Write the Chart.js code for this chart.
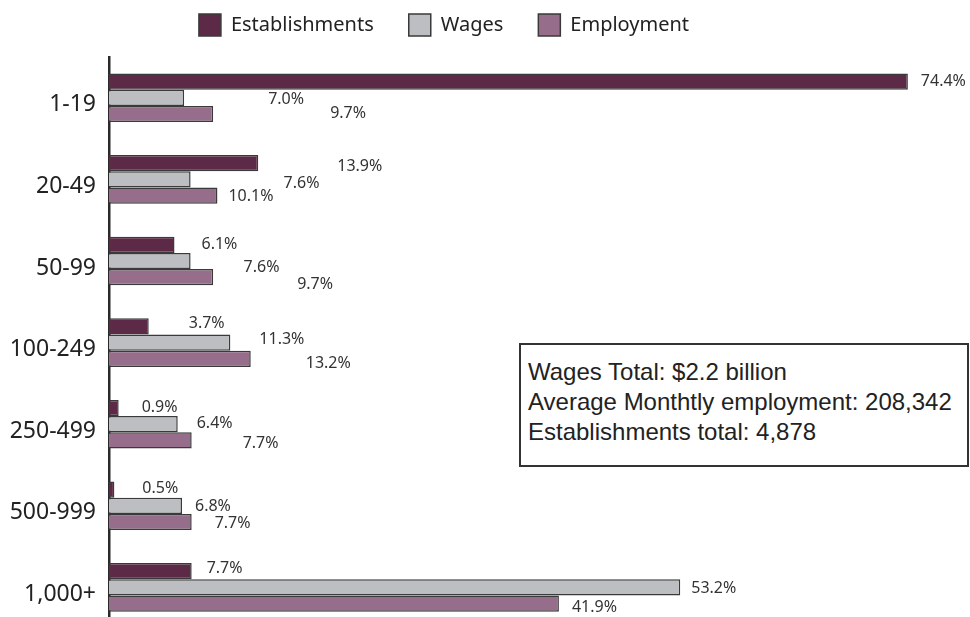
<!DOCTYPE html>
<html>
<head>
<meta charset="utf-8">
<title>Establishments, wages and employment by size class</title>
<script src="https://cdn.jsdelivr.net/npm/chart.js@4.4.1/dist/chart.umd.min.js"></script>
<style>
  body { margin: 0; background: #fff; width: 970px; height: 617px; overflow: hidden; position: relative; }
  #wrap { position: absolute; left: 0; top: 0; width: 970px; height: 655px; }
  .totals {
    position: absolute; left: 519px; top: 343px; width: 450px; height: 124px;
    box-sizing: border-box; border: 2px solid #333; background: #fff;
    padding: 12px 0 0 7px;
    font: 24px "Liberation Sans", Arial, sans-serif; line-height: 30px; color: #222;
  }
</style>
</head>
<body>
<div id="wrap"><canvas id="sizeChart" width="970" height="655"></canvas></div>
<div class="totals">
  Wages Total: $2.2 billion<br>
  Average Monthtly employment: 208,342<br>
  Establishments total: 4,878
</div>
<script>
// size classes (number of employees)
const sizeClasses = ['1-19', '20-49', '50-99', '100-249', '250-499', '500-999', '1,000+'];

// share of total, in percent
const establishments = [74.4, 13.9, 6.1, 3.7, 0.9, 0.5, 7.7];
const wages = [7.0, 7.6, 7.6, 11.3, 6.4, 6.8, 53.2];
const employment = [9.7, 10.1, 9.7, 13.2, 7.7, 7.7, 41.9];

// value labels are nudged by hand so they don't collide
const labelNudge = [
  { dx: [13, 79, 27, 40, 23, 28, 15], dy: [0, 3, 0, -3, -1, -1, -3] },
  { dx: [84, 93, 53, 29, 19, 13, 11], dy: [2, 4, 6, -3, -1, 1, 1] },
  { dx: [117, 11, 84, 55, 51, 23, 13], dy: [-1, 1, 7, 5, 3, 1, 4] }
];

const valueLabels = {
  id: 'valueLabels',
  afterDatasetsDraw(chart) {
    const ctx = chart.ctx;
    ctx.save();
    ctx.font = '16px "Noto Sans", sans-serif';
    ctx.fillStyle = '#333';
    ctx.textAlign = 'left';
    ctx.textBaseline = 'middle';
    chart.data.datasets.forEach((ds, i) => {
      const meta = chart.getDatasetMeta(i);
      meta.data.forEach((bar, j) => {
        const n = labelNudge[i];
        ctx.fillText(ds.data[j].toFixed(1) + '%', bar.x + n.dx[j], bar.y + n.dy[j]);
      });
    });
    ctx.restore();
  }
};

// legend sits a bit left of centre with some room under it
const legendPlace = {
  id: 'legendPlace',
  beforeInit(chart) {
    const fit = chart.legend.fit;
    chart.legend.fit = function () {
      fit.call(this);
      this.height = 78;
    };
  },
  afterLayout(chart) {
    chart.legend.left -= 40;
    chart.legend.right -= 40;
  }
};

const border = '#3a3a3a';

new Chart(document.getElementById('sizeChart'), {
  type: 'bar',
  data: {
    labels: sizeClasses,
    datasets: [
      { label: 'Establishments', data: establishments, backgroundColor: '#5c2946', borderColor: border, borderWidth: 1.5 },
      { label: 'Wages', data: wages, backgroundColor: '#bdbec1', borderColor: border, borderWidth: 1.5 },
      { label: 'Employment', data: employment, backgroundColor: '#966e8c', borderColor: border, borderWidth: 1.5 }
    ]
  },
  options: {
    indexAxis: 'y',
    responsive: false,
    animation: false,
    categoryPercentage: 0.595,
    barPercentage: 1.0,
    layout: { padding: { top: -21, right: 2, bottom: 4, left: 0 } },
    plugins: {
      legend: {
        position: 'top',
        labels: {
          boxWidth: 22,
          boxHeight: 22,
          padding: 35,
          color: '#222',
          font: { family: '"Noto Sans", sans-serif', size: 20 }
        }
      },
      tooltip: { enabled: false }
    },
    scales: {
      x: { display: false, min: 0, max: 80 },
      y: {
        grid: { display: false, drawTicks: false },
        border: { display: true, color: '#2a2a2a', width: 2.5 },
        ticks: {
          color: '#222',
          padding: 13,
          labelOffset: 7,
          font: { family: '"Noto Sans", sans-serif', size: 23 }
        },
        afterFit(scale) { scale.width = 109; }
      }
    }
  },
  plugins: [valueLabels, legendPlace]
});
</script>
</body>
</html>
